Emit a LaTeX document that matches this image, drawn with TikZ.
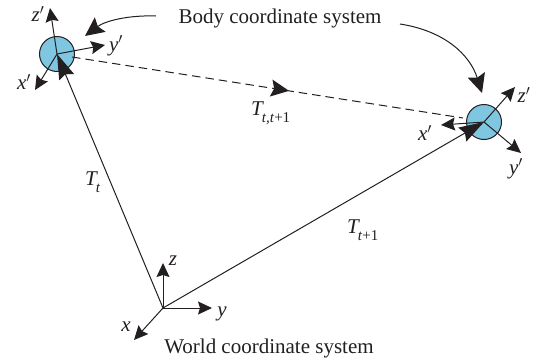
\documentclass[tikz,border=0pt]{standalone}
\usepackage{fontspec}
\setmainfont{Liberation Serif}
\usetikzlibrary{arrows.meta,decorations.markings}
\definecolor{discblue}{RGB}{127,198,224}
\definecolor{inkdark}{RGB}{35,31,32}
\newcommand{\lowsub}[1]{\raisebox{-7pt}{\fontsize{15}{17}\selectfont #1}}
\tikzset{bodydisc/.style={circle,draw=inkdark,fill=discblue,line width=1pt,minimum size=35pt,inner sep=0pt},
  axis/.style={-{Stealth[length=14pt,width=13pt,inset=2pt]},line width=1pt,draw=inkdark},
  bigarrow/.style={-{Stealth[length=25pt,width=16pt,inset=3pt]},line width=1pt,draw=inkdark},
  swoop/.style={-{Stealth[length=19pt,width=18pt,inset=3pt]},line width=1pt,draw=inkdark},
  dashline/.style={line width=1pt,draw=inkdark,dash pattern=on 8.5pt off 5pt,
    postaction={decorate,decoration={markings,mark=at position 0.555 with {\arrow[solid]{Stealth[length=18pt,width=17pt,inset=3pt]}}}}},
  lbl/.style={font=\fontsize{21}{24}\selectfont,text=inkdark,inner sep=0pt},
  sym/.style={font=\fontsize{21}{24}\selectfont\itshape,text=inkdark,inner sep=0pt}}

\begin{document}
\begin{tikzpicture}[x=1pt,y=-1pt]
  \useasboundingbox (0,0) rectangle (540,362);
  % body frames
  \node[bodydisc] (bodyA) at (57,54) {};
  \node[bodydisc] (bodyB) at (484,122) {};
  \coordinate (world) at (163,308);
  % world axes
  \coordinate (wz) at (163,263);
  \coordinate (wy) at (212,308);
  \coordinate (wx) at (134,340);
  \draw[axis] (world) -- (wz);
  \draw[axis] (world) -- (wy);
  \draw[axis] (world) -- (wx);
  % axes of first body
  \coordinate (az) at (50,8);
  \coordinate (ay) at (105,45);
  \coordinate (ax) at (35,90);
  \draw[axis] (bodyA.center) -- (az);
  \draw[axis] (bodyA.center) -- (ay);
  \draw[axis] (bodyA.center) -- (ax);
  % axes of second body
  \coordinate (bz) at (515,87);
  \coordinate (by) at (521,153);
  \coordinate (bx) at (441,125);
  \draw[axis] (bodyB.center) -- (bz);
  \draw[axis] (bodyB.center) -- (by);
  \draw[axis] (bodyB.center) -- (bx);
  % transforms
  \draw[bigarrow] (world) -- (bodyA.center);
  \draw[bigarrow] (world) -- (bodyB.center);
  \coordinate (dashA) at (72,57);
  \coordinate (dashB) at (463,118);
  \draw[dashline] (dashA) -- (dashB);
  % labels
  \node[lbl] (bodytitle) at (280,18) {Body coordinate system};
  \node[lbl] (worldtitle) at (269,348) {World coordinate system};
  \coordinate (swoopA) at (156,16);
  \coordinate (swoopAend) at (85,36);
  \coordinate (swoopB) at (400,24);
  \coordinate (swoopBend) at (482,93);
  \draw[swoop] (swoopA) .. controls (128,15) and (105,21) .. (swoopAend);
  \draw[swoop] (swoopB) .. controls (445,31) and (470,55) .. (swoopBend);
  \node[sym] (lwz) at (173,261) {z};
  \node[sym] (lwy) at (222,314) {y};
  \node[sym] (lwx) at (126,327) {x};
  \node[sym] (laz) at (38,14) {z$'$};
  \node[sym] (lay) at (116,46) {y$'$};
  \node[sym] (lax) at (24,82) {x$'$};
  \node[sym] (lbz) at (524,95) {z$'$};
  \node[sym] (lby) at (516,169) {y$'$};
  \node[sym] (lbx) at (425,133) {x$'$};
  \node[sym,anchor=base west] (ltw) at (85,185) {T\kern-1pt\lowsub{t}};
  \node[sym,anchor=base west] (ltb) at (347,233) {T\kern-1pt\lowsub{t\textup{+1}}};
  \node[sym,anchor=base west] (ltd) at (251,115) {T\kern-1pt\lowsub{t,t\textup{+1}}};
\end{tikzpicture}
\end{document}
